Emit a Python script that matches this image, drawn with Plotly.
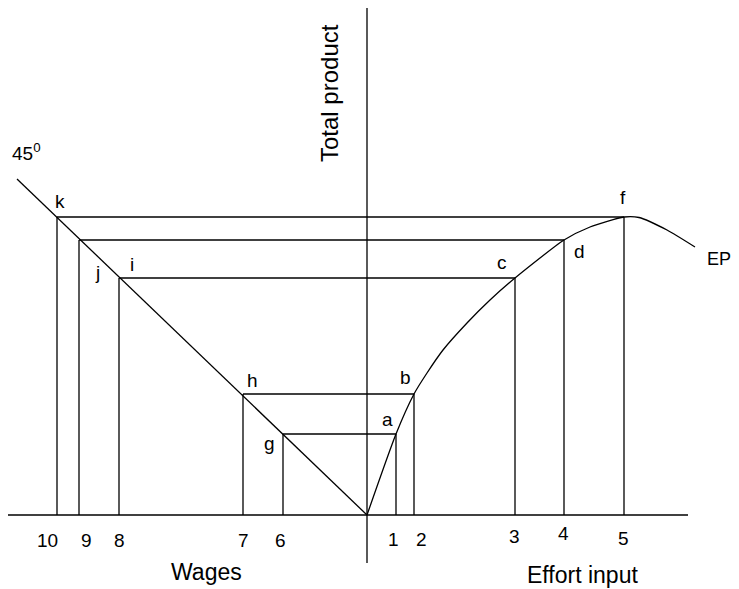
import plotly.graph_objects as go

# ---------------- data (units relative to the origin) -------------
right_point_labels = ["a", "b", "c", "d", "f"]
effort_levels = [2.9, 4.7, 14.8, 19.7, 25.7]          # effort input at each point
output_levels = [8.1, 12.1, 23.7, 27.5, 29.8]          # total product at each point

left_point_labels = ["g", "h", "i", "j", "k"]
wage_levels = [8.4, 12.4, 24.8, 28.8, 31.0]            # wages (plotted to the left)

right_tick_labels = ["1", "2", "3", "4", "5"]
left_tick_labels = ["6", "7", "8", "9", "10"]

# effort-productivity (EP) curve
ep_effort = [0, 2.9, 4.7, 6.0, 7.6, 10.0, 12.3, 14.8, 19.7, 22.3, 25.7, 27.2, 30.0, 32.8]
ep_output = [0, 8.1, 12.1, 14.2, 16.5, 19.2, 21.5, 23.7, 27.5, 28.8, 29.8, 29.75, 28.5, 26.8]

# 45 degree line (wage = total product)
line45_wage = [0, 35.0]
line45_output = [0, 33.6]

# axis extents
x_axis_extent = [-36.1, 32.1]
y_axis_extent = [-4.8, 50.9]

# ---------------- style -------------
W, H = 731, 581          # page body has an 8px margin
LINE = dict(color="black", width=1.3)
FONT = "Liberation Sans, Arial, Helvetica, sans-serif"
right_label_shift = [(-9, 15), (-9, 17), (-13, 16), (15, -11), (-1, 20)]
left_label_shift = [(-14, -9), (9, 14), (13, 14), (18, -32), (3, 16)]
right_tick_shift = [(-3, -24), (7, -24), (-1, -21), (-1, -18), (-1, -23)]
left_tick_shift = [(-3, -25), (0, -25), (0, -25), (7, -25), (-10, -25)]

fig = go.Figure()

def seg(xs, ys):
    fig.add_trace(go.Scatter(x=xs, y=ys, mode="lines", line=LINE,
                             hoverinfo="skip", showlegend=False))

# axes
fig.add_shape(type="line", x0=x_axis_extent[0], x1=x_axis_extent[1], y0=0, y1=0,
              xref="x", yref="y", line=LINE)
fig.add_shape(type="line", x0=0, x1=0, y0=y_axis_extent[0], y1=y_axis_extent[1],
              xref="x", yref="y", line=LINE)

# 45 degree line
seg([-w for w in line45_wage], line45_output)

# EP curve
fig.add_trace(go.Scatter(x=ep_effort, y=ep_output, mode="lines",
                         line=dict(color="black", width=1.3, shape="spline", smoothing=0.6),
                         hoverinfo="skip", showlegend=False))

# horizontal connectors and verticals
for e, w, q in zip(effort_levels, wage_levels, output_levels):
    seg([-w, e], [q, q])
    seg([e, e], [0, q])
    seg([-w, -w], [0, q])

ann = []
def text(x, y, s, size=19, xs=0, ys=0, **kw):
    ann.append(dict(x=x, y=y, text=s, showarrow=False, xref="x", yref="y",
                    xanchor="center", yanchor="middle", xshift=xs, yshift=ys,
                    font=dict(family=FONT, size=size, color="black"), **kw))

for lab, e, q, (dx, dy) in zip(right_point_labels, effort_levels, output_levels, right_label_shift):
    text(e, q, lab, xs=dx, ys=dy)
for lab, w, q, (dx, dy) in zip(left_point_labels, wage_levels, output_levels, left_label_shift):
    text(-w, q, lab, xs=dx, ys=dy)
for lab, e, (dx, dy) in zip(right_tick_labels, effort_levels, right_tick_shift):
    text(e, 0, lab, size=19, xs=dx, ys=dy)
for lab, w, (dx, dy) in zip(left_tick_labels, wage_levels, left_tick_shift):
    text(-w, 0, lab, size=19, xs=dx, ys=dy)

text(ep_effort[-1], ep_output[-1], "EP", size=18, xs=24, ys=-12)
text(-line45_wage[1], line45_output[1], "45<sup>0</sup>", xs=9, ys=27)
text(-16.1, -5.7, "Wages", size=23)
text(21.5, -6.0, "Effort input", size=23)
text(-3.8, 42.2, "Total product", size=24, textangle=-90)

fig.update_layout(
    width=W, height=H,
    margin=dict(l=0, r=0, t=0, b=0),
    paper_bgcolor="white", plot_bgcolor="white",
    xaxis=dict(range=[-35.9, 37.2], visible=False, fixedrange=True),
    yaxis=dict(range=[-7.4, 50.7], visible=False, fixedrange=True),
    annotations=ann,
    showlegend=False,
)

fig.write_html("out.html")
